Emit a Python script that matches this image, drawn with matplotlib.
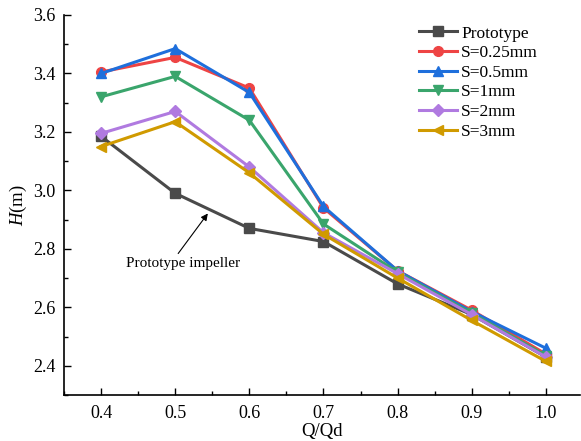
import numpy as np
import matplotlib.pyplot as plt
from matplotlib.ticker import MultipleLocator

plt.rcParams['font.family'] = ['Liberation Serif', 'DejaVu Serif']
plt.rcParams['mathtext.fontset'] = 'custom'
plt.rcParams['mathtext.it'] = 'Liberation Serif:italic'
plt.rcParams['mathtext.rm'] = 'Liberation Serif'

q = [0.4, 0.5, 0.6, 0.7, 0.8, 0.9, 1.0]
prototype = [3.185, 2.99, 2.87, 2.825, 2.68, 2.575, 2.43]
s025 = [3.405, 3.455, 3.35, 2.94, 2.725, 2.59, 2.44]
s05 = [3.40, 3.485, 3.335, 2.945, 2.725, 2.585, 2.46]
s1 = [3.32, 3.39, 3.24, 2.885, 2.72, 2.58, 2.435]
s2 = [3.195, 3.27, 3.08, 2.855, 2.715, 2.575, 2.43]
s3 = [3.15, 3.235, 3.06, 2.85, 2.70, 2.555, 2.415]

series = [
    ('Prototype', prototype, '#4a4a4a', 's'),
    ('S=0.25mm', s025, '#ee4444', 'o'),
    ('S=0.5mm', s05, '#1e6fdc', '^'),
    ('S=1mm', s1, '#3aa56c', 'v'),
    ('S=2mm', s2, '#b07ae0', 'D'),
    ('S=3mm', s3, '#d09a00', '<'),
]

fig = plt.figure(figsize=(5.81, 4.41), dpi=100)
ax = fig.add_axes([64/581, 46/441, (580-64)/581, (395-15)/441])

for name, vals, col, mk in series:
    ms = 6 if mk == 'D' else 7
    ax.plot(q, vals, color=col, marker=mk, markersize=ms, linewidth=2.2, label=name)

# annotation: arrow and text drawn separately
ax.annotate('', xy=(0.544, 2.921), xytext=(0.504, 2.784),
            arrowprops=dict(arrowstyle='-|>', color='black', lw=0.8, mutation_scale=10,
                            shrinkA=0, shrinkB=0))
ax.text(0.51, 2.75, 'Prototype impeller', ha='center', va='center', fontsize=11)

ax.set_xlim(0.35, 1.046)
ax.set_ylim(2.3, 3.6)
ax.xaxis.set_major_locator(MultipleLocator(0.1))
ax.xaxis.set_minor_locator(MultipleLocator(0.05))
ax.yaxis.set_major_locator(MultipleLocator(0.2))
ax.yaxis.set_minor_locator(MultipleLocator(0.1))
ax.xaxis.set_major_formatter(plt.FuncFormatter(lambda v, p: f'{v:.1f}'))
ax.yaxis.set_major_formatter(plt.FuncFormatter(lambda v, p: f'{v:.1f}'))
ax.tick_params(which='both', direction='in', labelsize=13)
ax.tick_params(which='major', length=5, width=1)
ax.tick_params(which='minor', length=3, width=1)
ax.tick_params(axis='x', pad=7)
ax.tick_params(axis='y', pad=6)
ax.spines['top'].set_visible(False)
ax.spines['right'].set_visible(False)
for sp in ['left', 'bottom']:
    ax.spines[sp].set_linewidth(1.2)

ax.set_xlabel('Q/Qd', fontsize=13.5, labelpad=1)
ax.set_ylabel('$H$(m)', fontsize=13.5, labelpad=3)

ax.legend(loc='upper left', bbox_to_anchor=(0.667, 1.0), frameon=False, fontsize=12.5,
          handlelength=2.2, labelspacing=0.2, handletextpad=0.25, borderaxespad=0.2)

fig.savefig('out.png', dpi=100)
